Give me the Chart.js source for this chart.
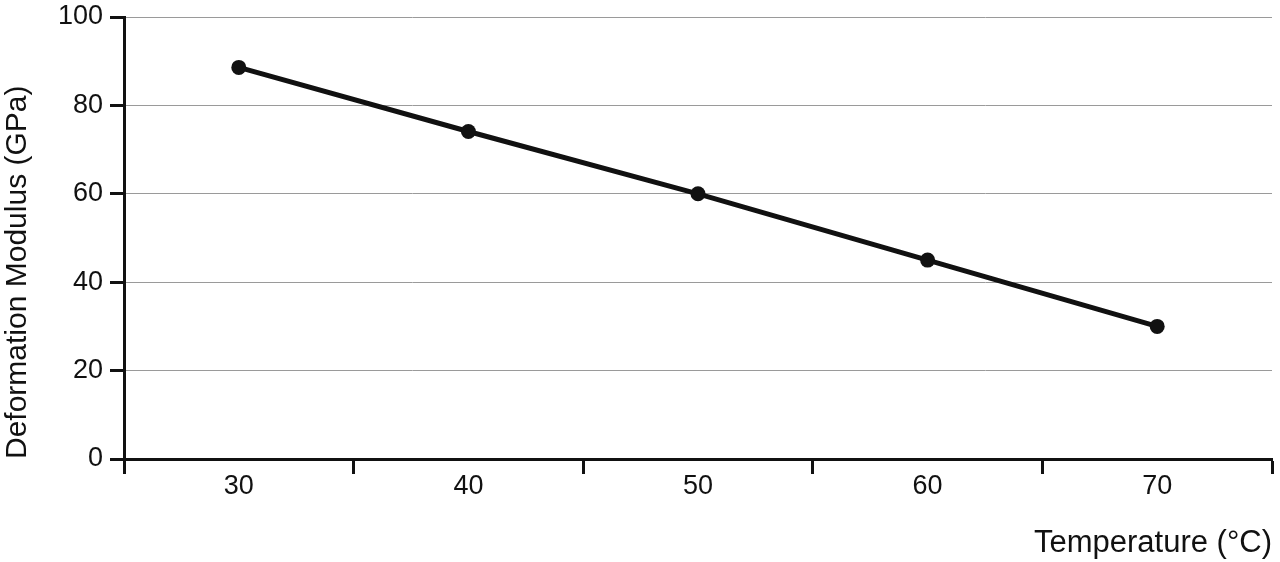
<!DOCTYPE html>
<html>
<head>
<meta charset="utf-8">
<script src="https://cdn.jsdelivr.net/npm/chart.js@4.4.1/dist/chart.umd.min.js"></script>
<style>
  html, body { margin: 0; padding: 0; background: #fff; }
  #wrap { width: 1280px; height: 562px; }
</style>
</head>
<body>
<div id="wrap"><canvas id="modulusChart" width="1280" height="562"></canvas></div>
<script>
    const temperatures = ['30', '40', '50', '60', '70'];
    const modulusValues = [88.6, 74.1, 60.0, 45.0, 30.0];
    const yTicks = [0, 20, 40, 60, 80, 100];

    const fontFamily = "'Liberation Sans Narrow', 'Arial Narrow', 'Liberation Sans', Arial, sans-serif";

    const ctx = document.getElementById('modulusChart').getContext('2d');
    const modulusChart = new Chart(ctx, {
        type: 'line',
        data: {
            labels: temperatures,
            datasets: [{
                label: 'Deformation Modulus',
                data: modulusValues,
                borderColor: '#111',
                backgroundColor: '#111',
                borderWidth: 5,
                pointRadius: 7.5,
                pointBackgroundColor: '#111',
                pointBorderWidth: 0,
                tension: 0
            }]
        },
        options: {
            responsive: false,
            animation: false,
            layout: { padding: { top: 17, right: 8, left: 0, bottom: 0 } },
            plugins: {
                legend: { display: false },
                tooltip: { enabled: false }
            },
            scales: {
                x: {
                    type: 'category',
                    offset: true,
                    grid: {
                        offset: true,
                        drawOnChartArea: false,
                        drawTicks: true,
                        tickLength: 15,
                        tickWidth: 3,
                        tickColor: '#111'
                    },
                    border: { display: true, color: '#111', width: 3 },
                    ticks: {
                        color: '#111',
                        padding: -4,
                        font: { family: fontFamily, size: 27 }
                    },
                    title: {
                        display: true,
                        text: 'Temperature (\u00b0C)',
                        align: 'end',
                        color: '#111',
                        padding: { top: 20, bottom: 0 },
                        font: { family: fontFamily, size: 31 }
                    },
                    afterFit: (scale) => { scale.height = 103; }
                },
                y: {
                    min: 0,
                    max: 100,
                    afterBuildTicks: (scale) => { scale.ticks = yTicks.map(v => ({ value: v })); },
                    grid: {
                        color: '#9a9a9a',
                        lineWidth: 1,
                        drawTicks: true,
                        tickLength: 14,
                        tickWidth: 3,
                        tickColor: '#111'
                    },
                    border: { display: true, color: '#111', width: 3 },
                    ticks: {
                        color: '#111',
                        padding: 7,
                        font: { family: fontFamily, size: 27 }
                    },
                    title: {
                        display: true,
                        text: 'Deformation Modulus (GPa)',
                        align: 'start',
                        color: '#111',
                        padding: { top: 0, bottom: 0 },
                        font: { family: fontFamily, size: 30 }
                    },
                    afterFit: (scale) => {
                        scale.width = 124;
                        scale.paddingTop = 0;
                        scale.paddingBottom = 0;
                    }
                }
            }
        }
    });
</script>
</body>
</html>
